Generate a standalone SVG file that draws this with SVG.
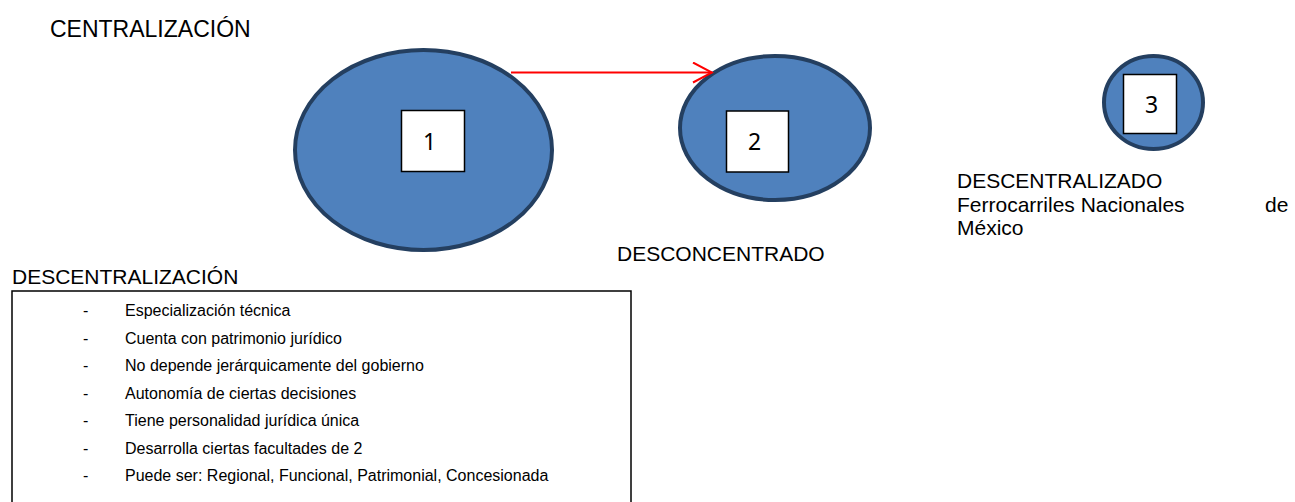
<svg xmlns="http://www.w3.org/2000/svg" width="1295" height="502" viewBox="0 0 1295 502">
<style>
.ell{fill:#4F81BD;stroke:#243F60;stroke-width:4}
.box{fill:#fff;stroke:#000;stroke-width:1.5}
.num{font-family:"Noto Sans","Liberation Sans",sans-serif;font-size:23px;fill:#000;text-anchor:middle;dominant-baseline:central}
.h{font-family:"Liberation Sans",Arial,sans-serif;font-size:21px;fill:#000}
.big{font-size:23px}
.li{font-family:"Liberation Sans",Arial,sans-serif;font-size:16px;fill:#000}
.conn{stroke:#FF0000;stroke-width:2;fill:none}
</style>
<defs>
<marker id="arr" markerWidth="22" markerHeight="24" refX="20" refY="11" orient="auto" markerUnits="userSpaceOnUse">
<polyline points="1,1 20,11 1,21" fill="none" stroke="#FF0000" stroke-width="2"/>
</marker>
</defs>
<text class="h big" x="50" y="37">CENTRALIZACIÓN</text>
<g id="node1">
<ellipse class="ell" cx="423.5" cy="150" rx="128.5" ry="100"/>
<rect class="box" x="401.5" y="110.5" width="63" height="61"/>
<text class="num" x="429.5" y="141">1</text>
</g>
<g id="node2">
<ellipse class="ell" cx="775" cy="128" rx="95" ry="72"/>
<rect class="box" x="726.5" y="111" width="62" height="61"/>
<text class="num" x="754.5" y="141">2</text>
<text class="h" x="617" y="261">DESCONCENTRADO</text>
</g>
<g id="connectors">
<line class="conn" x1="511" y1="72.5" x2="712" y2="72.5" marker-end="url(#arr)"/>
</g>
<g id="node3">
<ellipse class="ell" cx="1153.5" cy="102.5" rx="49.5" ry="46.5"/>
<rect class="box" x="1123.5" y="74.5" width="53" height="59"/>
<text class="num" x="1151.5" y="104">3</text>
<text class="h" x="957" y="188">DESCENTRALIZADO</text>
<text class="h" x="957" y="212">Ferrocarriles Nacionales</text>
<text class="h" x="1265" y="212">de</text>
<text class="h" x="957" y="235">México</text>
</g>
<g id="descentralizacion">
<text class="h" x="12" y="284">DESCENTRALIZACIÓN</text>
<rect x="12" y="291" width="619" height="240" fill="none" stroke="#000" stroke-width="1.5"/>
<g class="li">
<text x="83" y="316">-</text><text x="125" y="316">Especialización técnica</text>
<text x="83" y="343.5">-</text><text x="125" y="343.5">Cuenta con patrimonio jurídico</text>
<text x="83" y="371">-</text><text x="125" y="371">No depende jerárquicamente del gobierno</text>
<text x="83" y="398.5">-</text><text x="125" y="398.5">Autonomía de ciertas decisiones</text>
<text x="83" y="426">-</text><text x="125" y="426">Tiene personalidad jurídica única</text>
<text x="83" y="453.5">-</text><text x="125" y="453.5">Desarrolla ciertas facultades de 2</text>
<text x="83" y="481">-</text><text x="125" y="481">Puede ser: Regional, Funcional, Patrimonial, Concesionada</text>
</g>
</g>
</svg>
